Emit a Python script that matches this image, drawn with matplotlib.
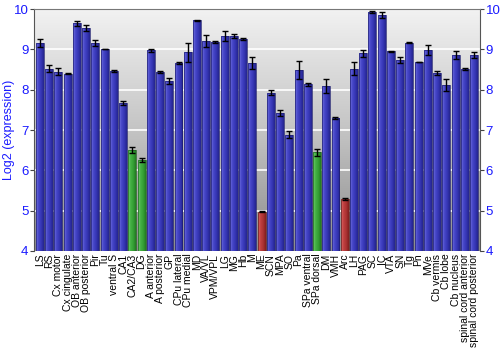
import numpy as np
import matplotlib.pyplot as plt
from matplotlib.colors import LinearSegmentedColormap

plt.rcParams["font.family"] = ["Liberation Sans", "DejaVu Sans"]

regions = ["LS", "RS", "Cx motor", "Cx cingulate", "OB anterior", "OB posterior", "Pir", "Tu",
           "ventral S", "CA1", "CA2/CA3", "DG", "A anterior", "A posterior", "GP", "CPu lateral",
           "CPu medial", "MD", "VA/VL", "VPM/VPL", "LG", "MG", "Hb", "M", "ME", "SCN", "MPA", "SO",
           "Pa", "SPa ventral", "SPa dorsal", "DM", "VMH", "Arc", "LH", "PAG", "SC", "IC", "VTA",
           "SN", "Tg", "Pn", "MVe", "Cb vermis", "Cb lobe", "Cb nucleus", "spinal cord anterior",
           "spinal cord posterior"]
expr = [9.16, 8.52, 8.45, 8.40, 9.65, 9.53, 9.16, 9.01,
        8.47, 7.67, 6.50, 6.26, 8.98, 8.44, 8.21, 8.67,
        8.93, 9.72, 9.21, 9.19, 9.33, 9.33, 9.26, 8.66, 4.97, 7.93, 7.42, 6.88,
        8.49, 8.13, 6.45, 8.09, 7.30, 5.29, 8.52, 8.90, 9.93, 9.85, 8.95,
        8.74, 9.17, 8.69, 8.99, 8.41, 8.12, 8.86, 8.51,
        8.86]
err = [0.10, 0.09, 0.08, 0.02, 0.06, 0.08, 0.07, 0.01,
       0.02, 0.06, 0.08, 0.05, 0.04, 0.02, 0.08, 0.03,
       0.24, 0.02, 0.15, 0.02, 0.12, 0.05, 0.03, 0.14, 0.01, 0.06, 0.07, 0.09,
       0.22, 0.04, 0.09, 0.18, 0.02, 0.02, 0.16, 0.09, 0.03, 0.07, 0.02,
       0.08, 0.01, 0.01, 0.12, 0.05, 0.14, 0.10, 0.02,
       0.08]
groups = ["b"] * len(regions)
for i in (10, 11, 30):
    groups[i] = "g"
for i in (24, 33):
    groups[i] = "r"

shades = {
    "b": ["#7070e0", "#4646c8", "#3636b4", "#24248e"],
    "g": ["#70d070", "#44b044", "#35a035", "#227a22"],
    "r": ["#e06868", "#c04040", "#aa3232", "#801e1e"],
}
cmaps = {k: LinearSegmentedColormap.from_list(k, v) for k, v in shades.items()}
edges = {"b": "#1e1e70", "g": "#1e601e", "r": "#601e1e"}

fig = plt.figure(figsize=(5, 3.5), dpi=100)
ax = fig.add_axes([0.068, 0.283, 0.892, 0.691])
ymin, ymax = 4, 10
x = np.arange(len(regions))
ax.set_xlim(-0.65, len(regions) - 0.35)
ax.set_ylim(ymin, ymax)

# grey background, light at the top and darker towards the bottom
bg = np.linspace(0, 1, 256).reshape(-1, 1)
bg_cmap = LinearSegmentedColormap.from_list("bg", ["#f2f2f2", "#c4c4c4", "#8c8c8c"])
ax.imshow(bg, cmap=bg_cmap, aspect="auto", extent=[0, 1, 0, 1],
          transform=ax.transAxes, zorder=0)
for yv in range(ymin + 1, ymax):
    ax.axhline(yv, color="white", lw=1.2, zorder=1)

width = 0.86
bars = ax.bar(x, np.array(expr) - ymin, bottom=ymin, width=width, zorder=2,
              color="none", edgecolor="none")
hgrad = np.linspace(0, 1, 64).reshape(1, -1)
for b, g in zip(bars, groups):
    x0 = b.get_x()
    im = ax.imshow(hgrad, cmap=cmaps[g], aspect="auto",
                   extent=[x0, x0 + b.get_width(), ymin, ymin + b.get_height()],
                   zorder=2, interpolation="bilinear")
    im.set_clip_path(b)
    ax.add_patch(plt.Rectangle((x0, ymin), b.get_width(), b.get_height(),
                               fill=False, edgecolor=edges[g], lw=0.5, zorder=3))

ax.errorbar(x, expr, yerr=err, fmt="none", ecolor="black", elinewidth=1,
            capsize=2.2, capthick=1, zorder=4)

blue = "#1a1aff"
ax.set_yticks(range(ymin, ymax + 1))
ax.tick_params(axis="y", colors="#444444", labelcolor=blue, labelsize=9.5,
               length=3, left=True, right=True, labelright=True, pad=1)
ax.set_ylabel("Log2 (expression)", color=blue, fontsize=9)
ax.yaxis.set_label_coords(-0.043, 0.5)
ax.set_xticks(x)
ax.set_xticklabels(regions, rotation=90, fontsize=7.5)
ax.tick_params(axis="x", length=0, pad=2)

ax.spines["left"].set_color("#555555")
ax.spines["right"].set_color("#555555")
ax.spines["top"].set_color("#777777")
ax.spines["bottom"].set_visible(False)

fig.savefig("out.png", dpi=100)
